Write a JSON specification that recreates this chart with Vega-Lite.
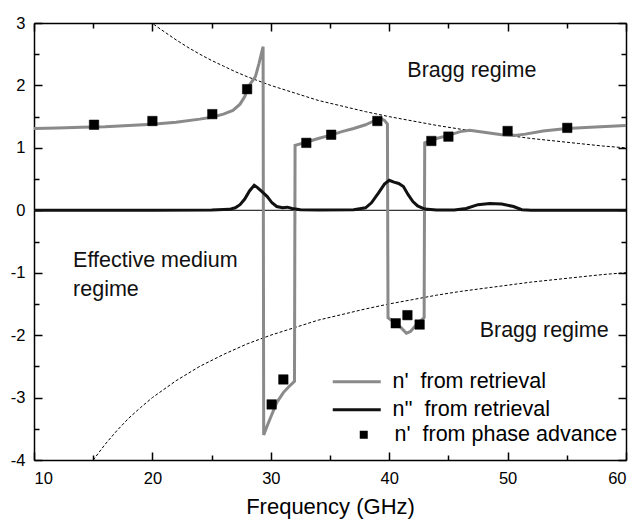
{
  "$schema": "https://vega.github.io/schema/vega-lite/v6.json",
  "width": 592,
  "height": 437,
  "autosize": {"type": "none"},
  "padding": {"left": 34, "top": 23, "right": 11, "bottom": 60},
  "background": "white",
  "config": {
    "view": {"stroke": null},
    "font": "Liberation Sans",
    "axis": {
      "grid": false,
      "domainColor": "black",
      "domainWidth": 1.5,
      "tickColor": "black",
      "tickWidth": 1.5,
      "labelColor": "black",
      "labelFont": "Liberation Sans",
      "labelFontSize": 16.5,
      "titleFont": "Liberation Sans",
      "titleFontSize": 22,
      "titleFontWeight": "normal",
      "titleColor": "black"
    }
  },
  "datasets": {
    "lines": [
      {"f": 10, "n": 1.31, "s": "n'\u00a0 from retrieval"},
      {"f": 12, "n": 1.32, "s": "n'\u00a0 from retrieval"},
      {"f": 14, "n": 1.33, "s": "n'\u00a0 from retrieval"},
      {"f": 16, "n": 1.34, "s": "n'\u00a0 from retrieval"},
      {"f": 18, "n": 1.36, "s": "n'\u00a0 from retrieval"},
      {"f": 20, "n": 1.38, "s": "n'\u00a0 from retrieval"},
      {"f": 22, "n": 1.41, "s": "n'\u00a0 from retrieval"},
      {"f": 24, "n": 1.46, "s": "n'\u00a0 from retrieval"},
      {"f": 25, "n": 1.49, "s": "n'\u00a0 from retrieval"},
      {"f": 26, "n": 1.54, "s": "n'\u00a0 from retrieval"},
      {"f": 26.8, "n": 1.6, "s": "n'\u00a0 from retrieval"},
      {"f": 27.4, "n": 1.7, "s": "n'\u00a0 from retrieval"},
      {"f": 27.8, "n": 1.82, "s": "n'\u00a0 from retrieval"},
      {"f": 28.1, "n": 1.98, "s": "n'\u00a0 from retrieval"},
      {"f": 28.4, "n": 2.06, "s": "n'\u00a0 from retrieval"},
      {"f": 28.7, "n": 2.14, "s": "n'\u00a0 from retrieval"},
      {"f": 29.0, "n": 2.35, "s": "n'\u00a0 from retrieval"},
      {"f": 29.35, "n": 2.62, "s": "n'\u00a0 from retrieval"},
      {"f": 29.4, "n": -3.6, "s": "n'\u00a0 from retrieval"},
      {"f": 29.7, "n": -3.45, "s": "n'\u00a0 from retrieval"},
      {"f": 30.07, "n": -3.28, "s": "n'\u00a0 from retrieval"},
      {"f": 30.5, "n": -3.08, "s": "n'\u00a0 from retrieval"},
      {"f": 31.06, "n": -2.92, "s": "n'\u00a0 from retrieval"},
      {"f": 31.5, "n": -2.83, "s": "n'\u00a0 from retrieval"},
      {"f": 32.0, "n": -2.74, "s": "n'\u00a0 from retrieval"},
      {"f": 32.05, "n": 1.04, "s": "n'\u00a0 from retrieval"},
      {"f": 33, "n": 1.09, "s": "n'\u00a0 from retrieval"},
      {"f": 34, "n": 1.15, "s": "n'\u00a0 from retrieval"},
      {"f": 35, "n": 1.2, "s": "n'\u00a0 from retrieval"},
      {"f": 36, "n": 1.26, "s": "n'\u00a0 from retrieval"},
      {"f": 37, "n": 1.31, "s": "n'\u00a0 from retrieval"},
      {"f": 38, "n": 1.37, "s": "n'\u00a0 from retrieval"},
      {"f": 38.7, "n": 1.43, "s": "n'\u00a0 from retrieval"},
      {"f": 39.2, "n": 1.48, "s": "n'\u00a0 from retrieval"},
      {"f": 39.6, "n": 1.44, "s": "n'\u00a0 from retrieval"},
      {"f": 39.85, "n": 1.38, "s": "n'\u00a0 from retrieval"},
      {"f": 39.9, "n": -1.72, "s": "n'\u00a0 from retrieval"},
      {"f": 40.45, "n": -1.8, "s": "n'\u00a0 from retrieval"},
      {"f": 41, "n": -1.88, "s": "n'\u00a0 from retrieval"},
      {"f": 41.45, "n": -1.97, "s": "n'\u00a0 from retrieval"},
      {"f": 41.8, "n": -1.94, "s": "n'\u00a0 from retrieval"},
      {"f": 42.3, "n": -1.83, "s": "n'\u00a0 from retrieval"},
      {"f": 42.95, "n": -1.72, "s": "n'\u00a0 from retrieval"},
      {"f": 43.0, "n": 1.08, "s": "n'\u00a0 from retrieval"},
      {"f": 44, "n": 1.15, "s": "n'\u00a0 from retrieval"},
      {"f": 45, "n": 1.2, "s": "n'\u00a0 from retrieval"},
      {"f": 46, "n": 1.26, "s": "n'\u00a0 from retrieval"},
      {"f": 46.8, "n": 1.28, "s": "n'\u00a0 from retrieval"},
      {"f": 48, "n": 1.25, "s": "n'\u00a0 from retrieval"},
      {"f": 49.5, "n": 1.21, "s": "n'\u00a0 from retrieval"},
      {"f": 50.6, "n": 1.2, "s": "n'\u00a0 from retrieval"},
      {"f": 51.5, "n": 1.22, "s": "n'\u00a0 from retrieval"},
      {"f": 53, "n": 1.27, "s": "n'\u00a0 from retrieval"},
      {"f": 55, "n": 1.31, "s": "n'\u00a0 from retrieval"},
      {"f": 57, "n": 1.33, "s": "n'\u00a0 from retrieval"},
      {"f": 60, "n": 1.36, "s": "n'\u00a0 from retrieval"},
      {"f": 10, "n": 0, "s": "n''\u00a0 from retrieval"},
      {"f": 20, "n": 0, "s": "n''\u00a0 from retrieval"},
      {"f": 25, "n": 0.005, "s": "n''\u00a0 from retrieval"},
      {"f": 26.5, "n": 0.015, "s": "n''\u00a0 from retrieval"},
      {"f": 27.0, "n": 0.04, "s": "n''\u00a0 from retrieval"},
      {"f": 27.4, "n": 0.09, "s": "n''\u00a0 from retrieval"},
      {"f": 27.8, "n": 0.18, "s": "n''\u00a0 from retrieval"},
      {"f": 28.2, "n": 0.31, "s": "n''\u00a0 from retrieval"},
      {"f": 28.6, "n": 0.4, "s": "n''\u00a0 from retrieval"},
      {"f": 28.9, "n": 0.36, "s": "n''\u00a0 from retrieval"},
      {"f": 29.3, "n": 0.29, "s": "n''\u00a0 from retrieval"},
      {"f": 29.7, "n": 0.22, "s": "n''\u00a0 from retrieval"},
      {"f": 30.1, "n": 0.12, "s": "n''\u00a0 from retrieval"},
      {"f": 30.5, "n": 0.06, "s": "n''\u00a0 from retrieval"},
      {"f": 31.0, "n": 0.04, "s": "n''\u00a0 from retrieval"},
      {"f": 31.4, "n": 0.05, "s": "n''\u00a0 from retrieval"},
      {"f": 31.8, "n": 0.03, "s": "n''\u00a0 from retrieval"},
      {"f": 32.5, "n": 0.01, "s": "n''\u00a0 from retrieval"},
      {"f": 34, "n": 0.005, "s": "n''\u00a0 from retrieval"},
      {"f": 37, "n": 0.01, "s": "n''\u00a0 from retrieval"},
      {"f": 38, "n": 0.04, "s": "n''\u00a0 from retrieval"},
      {"f": 38.5, "n": 0.12, "s": "n''\u00a0 from retrieval"},
      {"f": 39.1, "n": 0.28, "s": "n''\u00a0 from retrieval"},
      {"f": 39.6, "n": 0.42, "s": "n''\u00a0 from retrieval"},
      {"f": 40.0, "n": 0.48, "s": "n''\u00a0 from retrieval"},
      {"f": 40.4, "n": 0.45, "s": "n''\u00a0 from retrieval"},
      {"f": 40.8, "n": 0.43, "s": "n''\u00a0 from retrieval"},
      {"f": 41.2, "n": 0.38, "s": "n''\u00a0 from retrieval"},
      {"f": 41.6, "n": 0.25, "s": "n''\u00a0 from retrieval"},
      {"f": 42.0, "n": 0.14, "s": "n''\u00a0 from retrieval"},
      {"f": 42.4, "n": 0.07, "s": "n''\u00a0 from retrieval"},
      {"f": 43, "n": 0.02, "s": "n''\u00a0 from retrieval"},
      {"f": 44, "n": 0.005, "s": "n''\u00a0 from retrieval"},
      {"f": 45.5, "n": 0.005, "s": "n''\u00a0 from retrieval"},
      {"f": 46.5, "n": 0.03, "s": "n''\u00a0 from retrieval"},
      {"f": 47.5, "n": 0.09, "s": "n''\u00a0 from retrieval"},
      {"f": 48.5, "n": 0.11, "s": "n''\u00a0 from retrieval"},
      {"f": 49.5, "n": 0.1, "s": "n''\u00a0 from retrieval"},
      {"f": 50.5, "n": 0.06, "s": "n''\u00a0 from retrieval"},
      {"f": 51.2, "n": 0.01, "s": "n''\u00a0 from retrieval"},
      {"f": 52, "n": 0, "s": "n''\u00a0 from retrieval"},
      {"f": 60, "n": 0, "s": "n''\u00a0 from retrieval"}
    ],
    "bragg": [
      {"f": 20.1, "n": 2.98, "g": "u"}, {"f": 21, "n": 2.86, "g": "u"}, {"f": 22, "n": 2.73, "g": "u"},
      {"f": 23, "n": 2.61, "g": "u"}, {"f": 24, "n": 2.5, "g": "u"}, {"f": 25, "n": 2.4, "g": "u"},
      {"f": 26, "n": 2.31, "g": "u"}, {"f": 27, "n": 2.22, "g": "u"}, {"f": 28, "n": 2.14, "g": "u"},
      {"f": 29, "n": 2.07, "g": "u"}, {"f": 30, "n": 2.0, "g": "u"}, {"f": 32, "n": 1.88, "g": "u"},
      {"f": 34, "n": 1.76, "g": "u"}, {"f": 36, "n": 1.67, "g": "u"}, {"f": 38, "n": 1.58, "g": "u"},
      {"f": 40, "n": 1.5, "g": "u"}, {"f": 42, "n": 1.43, "g": "u"}, {"f": 44, "n": 1.36, "g": "u"},
      {"f": 46, "n": 1.3, "g": "u"}, {"f": 48, "n": 1.25, "g": "u"}, {"f": 50, "n": 1.2, "g": "u"},
      {"f": 52, "n": 1.15, "g": "u"}, {"f": 54, "n": 1.11, "g": "u"}, {"f": 56, "n": 1.07, "g": "u"},
      {"f": 58, "n": 1.03, "g": "u"}, {"f": 60, "n": 1.0, "g": "u"},
      {"f": 15, "n": -4.0, "g": "l"}, {"f": 16, "n": -3.75, "g": "l"}, {"f": 17, "n": -3.53, "g": "l"},
      {"f": 18, "n": -3.33, "g": "l"}, {"f": 19, "n": -3.16, "g": "l"}, {"f": 20, "n": -3.0, "g": "l"},
      {"f": 22, "n": -2.73, "g": "l"}, {"f": 24, "n": -2.5, "g": "l"}, {"f": 26, "n": -2.31, "g": "l"},
      {"f": 28, "n": -2.14, "g": "l"}, {"f": 30, "n": -2.0, "g": "l"}, {"f": 32, "n": -1.88, "g": "l"},
      {"f": 34, "n": -1.76, "g": "l"}, {"f": 36, "n": -1.67, "g": "l"}, {"f": 38, "n": -1.58, "g": "l"},
      {"f": 40, "n": -1.5, "g": "l"}, {"f": 42, "n": -1.43, "g": "l"}, {"f": 44, "n": -1.36, "g": "l"},
      {"f": 46, "n": -1.3, "g": "l"}, {"f": 48, "n": -1.25, "g": "l"}, {"f": 50, "n": -1.2, "g": "l"},
      {"f": 52, "n": -1.15, "g": "l"}, {"f": 54, "n": -1.11, "g": "l"}, {"f": 56, "n": -1.07, "g": "l"},
      {"f": 58, "n": -1.03, "g": "l"}, {"f": 60, "n": -1.0, "g": "l"}
    ],
    "points": [
      {"f": 15.07, "n": 1.37, "p": "n'\u00a0 from phase advance"},
      {"f": 20.0, "n": 1.43, "p": "n'\u00a0 from phase advance"},
      {"f": 25.06, "n": 1.54, "p": "n'\u00a0 from phase advance"},
      {"f": 28.0, "n": 1.94, "p": "n'\u00a0 from phase advance"},
      {"f": 30.07, "n": -3.11, "p": "n'\u00a0 from phase advance"},
      {"f": 31.06, "n": -2.71, "p": "n'\u00a0 from phase advance"},
      {"f": 33.0, "n": 1.08, "p": "n'\u00a0 from phase advance"},
      {"f": 35.1, "n": 1.21, "p": "n'\u00a0 from phase advance"},
      {"f": 39.0, "n": 1.43, "p": "n'\u00a0 from phase advance"},
      {"f": 40.55, "n": -1.81, "p": "n'\u00a0 from phase advance"},
      {"f": 41.54, "n": -1.68, "p": "n'\u00a0 from phase advance"},
      {"f": 42.57, "n": -1.83, "p": "n'\u00a0 from phase advance"},
      {"f": 43.56, "n": 1.11, "p": "n'\u00a0 from phase advance"},
      {"f": 45.0, "n": 1.18, "p": "n'\u00a0 from phase advance"},
      {"f": 50.0, "n": 1.27, "p": "n'\u00a0 from phase advance"},
      {"f": 55.04, "n": 1.32, "p": "n'\u00a0 from phase advance"}
    ],
    "notes": [
      {"f": 41.53, "n": 2.23, "t": "Bragg regime"},
      {"f": 47.64, "n": -1.94, "t": "Bragg regime"},
      {"f": 13.3, "n": -0.82, "t": "Effective medium"},
      {"f": 13.3, "n": -1.27, "t": "regime"}
    ]
  },
  "layer": [
    {
      "data": {"values": [{"z": 0}]},
      "mark": {"type": "rule", "color": "black", "strokeWidth": 1},
      "encoding": {
        "y": {"field": "z", "type": "quantitative", "scale": {"domain": [-4, 3], "nice": false, "zero": false}, "axis": null}
      }
    },
    {
      "data": {"name": "bragg"},
      "mark": {"type": "line", "color": "black", "strokeWidth": 1, "strokeDash": [3, 2]},
      "encoding": {
        "x": {"field": "f", "type": "quantitative", "scale": {"domain": [10, 60], "nice": false, "zero": false},
              "axis": {"orient": "top", "values": [10, 20, 30, 40, 50, 60], "labels": false, "title": null, "domain": true, "tickSize": -8}},
        "y": {"field": "n", "type": "quantitative", "scale": {"domain": [-4, 3], "nice": false, "zero": false},
              "axis": {"orient": "right", "values": [-4, -3, -2, -1, 0, 1, 2, 3], "labels": false, "title": null, "domain": true, "tickSize": -8}},
        "detail": {"field": "g"}
      }
    },
    {
      "data": {"name": "lines"},
      "mark": {"type": "line", "strokeWidth": 3},
      "encoding": {
        "x": {"field": "f", "type": "quantitative", "scale": {"domain": [10, 60], "nice": false, "zero": false},
              "axis": {"orient": "bottom", "values": [10, 20, 30, 40, 50, 60], "tickSize": -8, "labelPadding": 18, "title": "Frequency (GHz)", "titlePadding": 10}},
        "y": {"field": "n", "type": "quantitative", "scale": {"domain": [-4, 3], "nice": false, "zero": false},
              "axis": {"orient": "left", "values": [-4, -3, -2, -1, 0, 1, 2, 3], "labelExpr": "'' + datum.value", "tickSize": -8, "labelPadding": 17, "title": null}},
        "color": {
          "field": "s", "type": "nominal",
          "scale": {"domain": ["n'\u00a0 from retrieval", "n''\u00a0 from retrieval"], "range": ["#8a8a8a", "#111111"]},
          "legend": {
            "orient": "none", "legendX": 336, "legendY": 348, "title": null, "padding": 0,
            "symbolType": "M-9.6,0H0", "symbolSize": 100, "symbolStrokeWidth": 3,
            "labelFontSize": 21.5, "labelFont": "Liberation Sans", "labelColor": "black", "labelOffset": 1, "labelLimit": 400, "rowPadding": 5
          }
        }
      }
    },
    {
      "data": {"name": "points"},
      "mark": {"type": "point", "filled": true, "size": 90, "opacity": 1, "color": "#000000", "stroke": "#000000", "strokeWidth": 0.5},
      "encoding": {
        "x": {"field": "f", "type": "quantitative", "scale": {"domain": [10, 60], "nice": false, "zero": false},
              "axis": {"orient": "bottom", "values": [15, 25, 35, 45, 55], "labels": false, "title": null, "domain": false, "tickSize": -5}},
        "y": {"field": "n", "type": "quantitative", "scale": {"domain": [-4, 3], "nice": false, "zero": false},
              "axis": {"orient": "left", "values": [-3.5, -2.5, -1.5, -0.5, 0.5, 1.5, 2.5], "labels": false, "title": null, "domain": false, "tickSize": -5}},
        "shape": {
          "field": "p", "type": "nominal",
          "scale": {"range": ["square"]},
          "legend": {
            "orient": "none", "legendX": 319, "legendY": 401, "title": null, "padding": 0,
            "symbolSize": 64, "symbolFillColor": "#000000", "symbolStrokeColor": "#000000", "symbolStrokeWidth": 0.5,
            "labelFontSize": 21.5, "labelFont": "Liberation Sans", "labelColor": "black", "labelOffset": 20, "labelLimit": 400
          }
        }
      }
    },
    {
      "data": {"name": "notes"},
      "mark": {"type": "text", "align": "left", "baseline": "middle", "fontSize": 21.5, "font": "Liberation Sans", "color": "#111111"},
      "encoding": {
        "x": {"field": "f", "type": "quantitative",
              "axis": {"orient": "top", "values": [15, 25, 35, 45, 55], "labels": false, "title": null, "domain": false, "tickSize": -5}},
        "y": {"field": "n", "type": "quantitative",
              "axis": {"orient": "right", "values": [-3.5, -2.5, -1.5, -0.5, 0.5, 1.5, 2.5], "labels": false, "title": null, "domain": false, "tickSize": -5}},
        "text": {"field": "t"}
      }
    }
  ],
  "resolve": {"axis": {"x": "independent", "y": "independent"}}
}
